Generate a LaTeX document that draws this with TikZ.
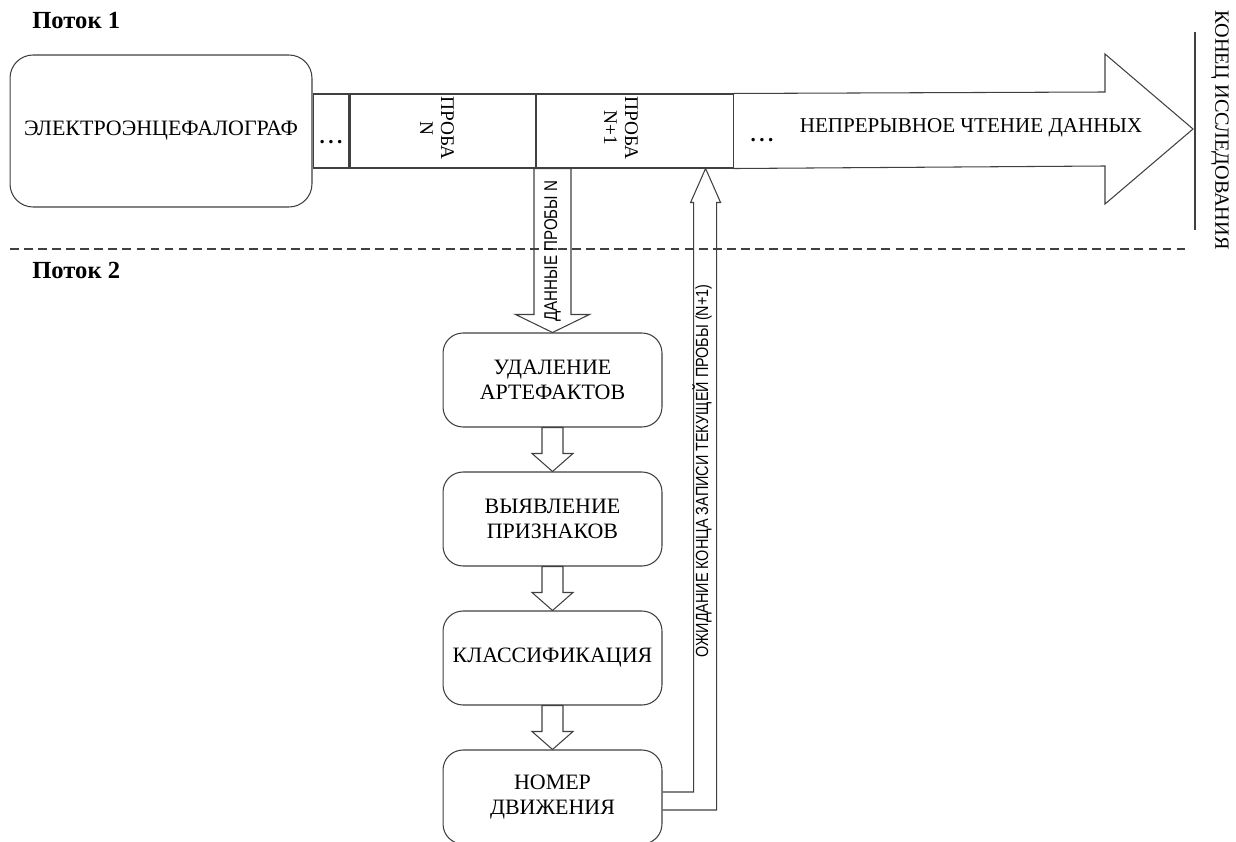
\documentclass[tikz,border=0pt]{standalone}
\usepackage{fontspec}
\setmainfont{Liberation Serif}
\newfontfamily\narrowsans[FakeStretch=0.82]{Liberation Sans}
\usetikzlibrary{calc}

\begin{document}
\begin{tikzpicture}[x=0.02cm, y=-0.02cm,
    outl/.style={draw=black!75, line width=0.6pt},
    stage/.style={outl, fill=white, rounded corners=0.4cm, minimum width=4.38cm, minimum height=1.88cm, align=center, font=\fontsize{12.5}{14.5}\selectfont},
    cell/.style={outl, fill=white, minimum height=1.48cm, inner sep=0pt},
    vtext/.style={font=\narrowsans\fontsize{10}{11}\selectfont, inner sep=0pt},
    dotted/.style={font=\bfseries\fontsize{12}{14}\selectfont, inner sep=0pt}]
    \useasboundingbox (0,0) rectangle (1236,841);
    \node[font=\bfseries\fontsize{14}{16}\selectfont, anchor=west, inner sep=0pt] at (32,21) (flow1) {Поток 1};
    \node[font=\bfseries\fontsize{14}{16}\selectfont, anchor=west, inner sep=0pt] at (32,270) (flow2) {Поток 2};
    \draw[outl, dash pattern=on 5pt off 3pt] (10,249) -- (1190,249);
    % stream 1
    \node[outl, fill=white, rounded corners=0.46cm, minimum width=6.04cm, minimum height=3.04cm, font=\fontsize{12.5}{14.5}\selectfont] at (161,131) (eeg) {ЭЛЕКТРОЭНЦЕФАЛОГРАФ};
    \node[cell, minimum width=0.72cm, anchor=west] at (eeg.east) (dots) {};
    \node[cell, minimum width=3.7cm, anchor=west] at (dots.east) (probaN) {};
    \node[cell, minimum width=3.94cm, anchor=west] at (probaN.east) (probaN1) {};
    \draw[outl] (probaN1.north east) -- (1105,92) -- (1105,54) -- (1193,129) -- (1105,204) -- (1105,166) -- (probaN1.south east);
    \node[dotted] at ($(dots.center)+(0,11)$) (dotsA) {.\,.\,.};
    \node[dotted] at (762,140) (dotsB) {.\,.\,.};
    \node[rotate=-90, align=center, font=\fontsize{11}{12}\selectfont] at (437,128) (tN) {ПРОБА\\N};
    \node[rotate=-90, align=center, font=\fontsize{11}{12}\selectfont] at (621,128) (tN1) {ПРОБА\\N+1};
    \node[font=\fontsize{12}{14}\selectfont] at (971,128) (flowtext) {НЕПРЕРЫВНОЕ ЧТЕНИЕ ДАННЫХ};
    \coordinate (endtop) at (1195,32);
    \coordinate (endbot) at (1195,230);
    \draw[outl] (endtop) -- (endbot);
    \node[rotate=-90, font=\fontsize{11.5}{13.5}\selectfont] at (1220,130) (endtext) {КОНЕЦ ИССЛЕДОВАНИЯ};
    % stream 2
    \node[stage] at (552.5,380) (s1) {УДАЛЕНИЕ\\АРТЕФАКТОВ};
    \node[stage] at (552.5,519) (s2) {ВЫЯВЛЕНИЕ\\ПРИЗНАКОВ};
    \node[stage] at (552.5,658) (s3) {КЛАССИФИКАЦИЯ};
    \node[stage] at (552.5,797) (s4) {НОМЕР\\ДВИЖЕНИЯ};
    % data of the trial goes down
    \draw[outl] (s1.north) -- ++(-37,-18) -- ++(18.5,0) coordinate (dtl) -- (dtl |- probaN1.south) -- ++(37,0) coordinate (dtr) -- (dtr |- dtl) -- ++(18.5,0) -- cycle;
    \node[vtext, font=\narrowsans\fontsize{10.5}{12}\selectfont, rotate=90] at (552.5,251) (datatext) {ДАННЫЕ ПРОБЫ N};
    \foreach \a/\b in {s1/s2, s2/s3, s3/s4}
      \draw[outl] (\b.north) -- ++(-20.5,-18) -- ++(10,0) coordinate (t) -- (t |- \a.south) -- ++(21,0) coordinate (u) -- (u |- t) -- ++(10,0) -- cycle;
    % waiting for the next trial
    \coordinate (wtip) at ($(probaN1.south east)+(-28,0)$);
    \coordinate (wbase) at ($(wtip)+(0,34)$);
    \draw[outl] ($(s4.east)+(0,-5)$) -| ($(wbase)+(-12,0)$) -- ++(-3,0) -- (wtip) -- ($(wbase)+(15,0)$) -- ++(-4,0) |- ($(s4.east)+(0,13)$);
    \node[vtext, rotate=90] at (702,471) (waittext) {ОЖИДАНИЕ КОНЦА ЗАПИСИ ТЕКУЩЕЙ ПРОБЫ (N+1)};
\end{tikzpicture}
\end{document}
